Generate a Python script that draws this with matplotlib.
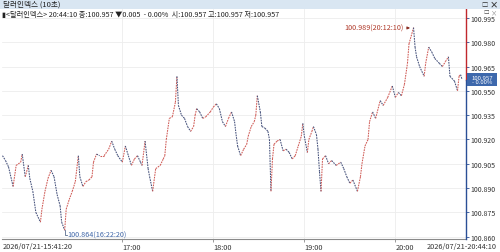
import matplotlib
matplotlib.use("Agg")
import matplotlib.pyplot as plt
from matplotlib.collections import LineCollection
from matplotlib.patches import Rectangle
import numpy as np

plt.rcParams['font.family'] = ['Noto Sans CJK KR', 'DejaVu Sans']

# ---- data ----
times = ["15:41", "15:43", "15:45", "15:48", "15:50", "15:53", "15:54", "15:56", "15:58", "15:59",
         "16:01", "16:03", "16:06", "16:07", "16:09", "16:11", "16:13", "16:15", "16:17", "16:19",
         "16:20", "16:22", "16:23", "16:25", "16:27", "16:29", "16:30", "16:31", "16:32", "16:34",
         "16:36", "16:38", "16:40", "16:41", "16:43", "16:45", "16:48", "16:51", "16:53", "16:55",
         "16:57", "17:00", "17:02", "17:04", "17:06", "17:08", "17:10", "17:12", "17:13", "17:15",
         "17:17", "17:18", "17:20", "17:22", "17:25", "17:27", "17:28", "17:29", "17:31", "17:33",
         "17:35", "17:36", "17:37", "17:39", "17:41", "17:43", "17:45", "17:47", "17:48", "17:49",
         "17:51", "17:53", "17:55", "17:58", "18:00", "18:02", "18:04", "18:06", "18:08", "18:10",
         "18:12", "18:14", "18:15", "18:16", "18:18", "18:20", "18:22", "18:23", "18:25", "18:27",
         "18:28", "18:29", "18:31", "18:32", "18:34", "18:36", "18:37", "18:38", "18:39", "18:40",
         "18:42", "18:44", "18:46", "18:48", "18:50", "18:52", "18:54", "18:56", "18:58", "18:59",
         "19:00", "19:02", "19:03", "19:05", "19:06", "19:08", "19:09", "19:10", "19:11", "19:12",
         "19:14", "19:16", "19:18", "19:21", "19:24", "19:26", "19:28", "19:30", "19:32", "19:35",
         "19:37", "19:38", "19:40", "19:42", "19:43", "19:45", "19:47", "19:50", "19:52", "19:55",
         "19:58", "20:00", "20:02", "20:04", "20:06", "20:08", "20:09", "20:12", "20:13", "20:14",
         "20:16", "20:19", "20:20", "20:22", "20:24", "20:26", "20:29", "20:31", "20:33", "20:35",
         "20:36", "20:39", "20:41", "20:42", "20:43", "20:44"]
prices = [100.910, 100.907, 100.903, 100.891, 100.904, 100.906, 100.911, 100.897, 100.904, 100.896,
          100.888, 100.875, 100.869, 100.877, 100.888, 100.896, 100.901, 100.897, 100.886, 100.879,
          100.869, 100.864, 100.877, 100.883, 100.888, 100.894, 100.902, 100.910, 100.897, 100.891,
          100.894, 100.895, 100.897, 100.906, 100.911, 100.910, 100.910, 100.914, 100.919, 100.914,
          100.910, 100.906, 100.916, 100.910, 100.904, 100.908, 100.910, 100.906, 100.904, 100.919,
          100.902, 100.897, 100.888, 100.902, 100.904, 100.908, 100.910, 100.920, 100.933, 100.934,
          100.943, 100.959, 100.941, 100.935, 100.933, 100.928, 100.925, 100.928, 100.935, 100.939,
          100.937, 100.933, 100.934, 100.937, 100.940, 100.942, 100.939, 100.931, 100.928, 100.933,
          100.937, 100.931, 100.923, 100.916, 100.910, 100.914, 100.917, 100.922, 100.928, 100.931,
          100.935, 100.947, 100.937, 100.928, 100.927, 100.925, 100.920, 100.888, 100.908, 100.917,
          100.919, 100.920, 100.913, 100.914, 100.912, 100.908, 100.910, 100.916, 100.922, 100.930,
          100.922, 100.912, 100.920, 100.925, 100.928, 100.923, 100.914, 100.900, 100.888, 100.908,
          100.910, 100.905, 100.907, 100.904, 100.906, 100.902, 100.897, 100.893, 100.895, 100.888,
          100.897, 100.905, 100.916, 100.920, 100.931, 100.937, 100.933, 100.944, 100.941, 100.946,
          100.953, 100.946, 100.949, 100.947, 100.954, 100.967, 100.979, 100.989, 100.977, 100.971,
          100.965, 100.959, 100.967, 100.977, 100.974, 100.970, 100.967, 100.965, 100.968, 100.971,
          100.959, 100.956, 100.950, 100.959, 100.960, 100.957]

ytick_vals = [100.860, 100.875, 100.890, 100.905, 100.920, 100.935, 100.950, 100.965, 100.980, 100.995]
xtick_labels = ["17:00", "18:00", "19:00", "20:00"]
start_label = "2026/07/21-15:41:20"
end_label = "2026/07/21-20:44:10"
title_text = "달러인덱스 (10초)"
info_text = "▮<달러인덱스> 20:44:10 종:100.957 ▼0.005  - 0.00%  시:100.957 고:100.957 저:100.957"
current_price = 100.957
current_change = "- 0.00%"
low_label = "100.864(16:22:20)"
high_label = "100.989(20:12:10)"


def to_min(s):
    parts = [int(v) for v in s.split(":")]
    m = parts[0] * 60 + parts[1]
    if len(parts) > 2:
        m += parts[2] / 60.0
    return m


t = np.array([to_min(s) for s in times], dtype=float)
p = np.array(prices)

W, H = 500, 253
fig = plt.figure(figsize=(W / 100, H / 100), dpi=100)
fig.patch.set_facecolor("white")

# axes occupies pixels x 2..466, y 10..240
ax = fig.add_axes([2 / W, (H - 240) / H, 464 / W, 230 / H])
ax.set_facecolor("white")
x0 = to_min("15:41:20") - 0.66
x1 = to_min("15:41:20") + 463 * 0.6593
y0, y1 = 100.8586, 101.0005
ax.set_xlim(x0, x1)
ax.set_ylim(y0, y1)

# grid
for v in ytick_vals:
    ax.axhline(v, color="#ededed", lw=0.6, zorder=0)
for lab in xtick_labels:
    ax.axvline(to_min(lab), color="#ededed", lw=0.6, zorder=0)

# price path as small up/down candle-like dashes
segs = []
cols = []
for i in range(1, len(t)):
    segs.append([(t[i - 1], p[i - 1]), (t[i], p[i])])
    cols.append("#cf5a55" if p[i] >= p[i - 1] else "#44507a")
lc = LineCollection(segs, colors=cols, linewidths=0.75, linestyles=(0, (1.6, 0.9)), zorder=3)
ax.add_collection(lc)

# spines
for s in ["top", "left", "right"]:
    ax.spines[s].set_visible(False)
ax.spines["bottom"].set_color("#8a8a8a")
ax.spines["bottom"].set_linewidth(0.8)

# right axis line: red above current price, blue below
ax.plot([x1, x1], [current_price, y1], color="#c0282d", lw=1.0, clip_on=False, zorder=5)
ax.plot([x1, x1], [y0, current_price], color="#2a4f96", lw=1.0, clip_on=False, zorder=5)

ax.yaxis.tick_right()
ax.set_yticks(ytick_vals)
ax.set_yticklabels([f"{v:.3f}" for v in ytick_vals])
ax.tick_params(axis="y", length=2, width=0.6, colors="#2a4f96", labelcolor="#333333",
               labelsize=5.0, pad=1)

ax.set_xticks([to_min(s) for s in xtick_labels])
ax.set_xticklabels(xtick_labels)
ax.tick_params(axis="x", length=2, width=0.6, colors="#8a8a8a", labelcolor="#333333",
               labelsize=5.3, pad=1)
for lbl in ax.get_xticklabels():
    lbl.set_horizontalalignment("left")

fig.text(3 / W, 1 - 247 / H, start_label, fontsize=5.3, color="#333333", va="center", ha="left")
fig.text(497 / W, 1 - 247 / H, end_label, fontsize=5.3, color="#333333", va="center", ha="right")

# title bar
fig.patches.append(Rectangle((0, 1 - 10 / H), 1, 10 / H, transform=fig.transFigure,
                             facecolor="#d9e6f2", edgecolor="none", zorder=0))
fig.text(3 / W, 1 - 5 / H, title_text, fontsize=5.5, color="#222222", va="center", ha="left")
fig.text(485 / W, 1 - 5 / H, "□", fontsize=4.5, color="#333333", va="center", ha="center")
fig.text(494 / W, 1 - 5 / H, "×", fontsize=6, color="#333333", va="center", ha="center",
         fontweight="bold")
fig.text(486 / W, 1 - 13 / H, "□", fontsize=4, color="#555555", va="center", ha="center")
fig.text(494 / W, 1 - 13 / H, "×", fontsize=4.5, color="#888888", va="center", ha="center")

# info line
fig.text(2 / W, 1 - 14.5 / H, info_text, fontsize=5.2, color="#222222", va="center", ha="left")

# current price box
fig.patches.append(Rectangle((467 / W, 1 - 87 / H), 30 / W, 13 / H, transform=fig.transFigure,
                             facecolor="#3d68ac", edgecolor="none", zorder=5))
fig.text(482 / W, 1 - 80.5 / H, f"{current_price:.3f}\n{current_change}", fontsize=4.3,
         color="white", va="center", ha="center", linespacing=0.9, zorder=6)

# low / high annotations
i_lo = int(np.argmin(p))
i_hi = int(np.argmax(p))
lo_y = y0 + (y1 - y0) * 4 / 230
ax.plot([t[i_lo], t[i_lo], t[i_lo] + 1.3], [p[i_lo], lo_y, lo_y], color="#5a6e90", lw=0.6, zorder=4)
ax.text(t[i_lo] + 1.5, lo_y, low_label, fontsize=5.2, color="#3f66a8", va="center", ha="left")
ax.annotate("", xy=(t[i_hi] - 0.5, p[i_hi] - 0.0002), xytext=(t[i_hi] - 6.0, p[i_hi] - 0.0002),
            arrowprops=dict(arrowstyle="-|>", color="#8a2a20", lw=0.6, mutation_scale=4))
ax.text(t[i_hi] - 6.3, p[i_hi] - 0.0002, high_label, fontsize=5.2, color="#b03a2a",
        va="center", ha="right")

fig.savefig("out.png", dpi=100)
